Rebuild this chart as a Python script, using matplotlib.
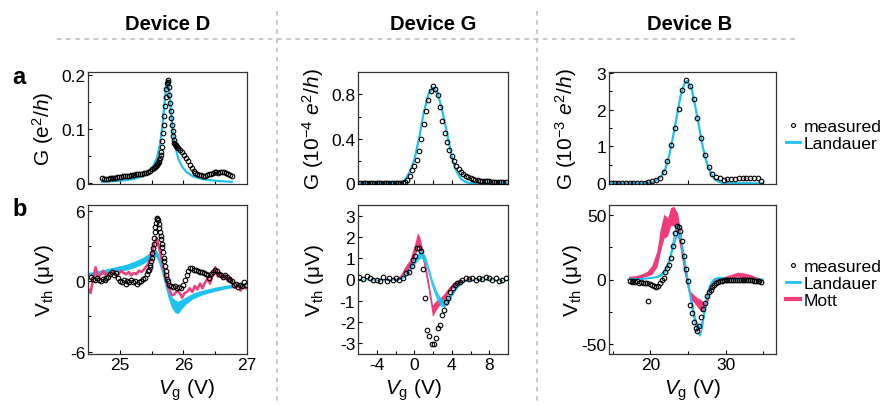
import numpy as np
import matplotlib
matplotlib.use("Agg")
import matplotlib.pyplot as plt
from matplotlib.lines import Line2D

plt.rcParams['font.family'] = ['Liberation Sans', 'DejaVu Sans']
plt.rcParams['mathtext.fontset'] = 'custom'
plt.rcParams['mathtext.rm'] = 'Liberation Sans'
plt.rcParams['mathtext.it'] = 'Liberation Sans:italic'
plt.rcParams['mathtext.bf'] = 'Liberation Sans:bold'
plt.rcParams['axes.unicode_minus'] = False

CYAN = '#1DC2EF'
PINK = '#EF3C7B'

# ---------------- Device D ----------------
# conductance, measured (gate sweep, finer steps around the peak)
d_g_v = np.concatenate([np.linspace(24.72, 25.53, 28),
                        np.linspace(25.56, 25.92, 37),
                        np.linspace(25.95, 26.76, 28)])
d_g_meas = [0.010, 0.008, 0.007, 0.008, 0.009, 0.009, 0.010, 0.010, 0.011, 0.011,
            0.011, 0.012, 0.012, 0.013, 0.013, 0.014, 0.015, 0.015, 0.016, 0.016,
            0.017, 0.017, 0.018, 0.019, 0.020, 0.022, 0.025, 0.028,
            0.030, 0.031, 0.033, 0.035, 0.037, 0.039, 0.042, 0.046, 0.051, 0.058,
            0.067, 0.078, 0.092, 0.108, 0.125, 0.143, 0.160, 0.175, 0.186, 0.192,
            0.188, 0.178, 0.164, 0.149, 0.134, 0.120, 0.107, 0.096, 0.087, 0.080,
            0.075, 0.072, 0.070, 0.068, 0.067, 0.065, 0.064,
            0.061, 0.057, 0.052, 0.046, 0.040, 0.033, 0.027, 0.022, 0.019, 0.017,
            0.015, 0.014, 0.013, 0.013, 0.014, 0.016, 0.017, 0.019, 0.020, 0.020,
            0.019, 0.020, 0.021, 0.020, 0.018, 0.016, 0.014, 0.012]
d_g_fit_v = [24.72, 25.0, 25.2, 25.35, 25.45, 25.52, 25.58, 25.63, 25.67, 25.70, 25.73,
             25.75, 25.77, 25.80, 25.83, 25.87, 25.92, 25.98, 26.05, 26.15, 26.30, 26.50, 26.76]
d_g_fit = [0.002, 0.004, 0.007, 0.012, 0.020, 0.030, 0.045, 0.070, 0.105, 0.145, 0.180,
           0.190, 0.180, 0.140, 0.100, 0.068, 0.045, 0.030, 0.020, 0.012, 0.007, 0.004, 0.002]

# thermovoltage
d_v_v = np.concatenate([np.linspace(24.55, 25.42, 30),
                        np.linspace(25.45, 25.75, 31),
                        np.linspace(25.78, 26.98, 41)])
d_v_meas = [0.4, 0.2, 0.1, 0.3, 0.1, 0.0, 0.2, 0.1, 0.3, 0.4, 0.6, 0.8, 0.5, 0.7, 0.3,
            0.0, -0.1, 0.1, -0.2, 0.0, -0.1, 0.1, -0.1, 0.0, -0.2, -0.1, 0.0, 0.2, 0.3, 0.6,
            0.9, 1.0, 1.2, 1.4, 1.7, 2.0, 2.4, 2.8, 3.2, 3.7, 4.2, 4.6, 5.0, 5.3, 5.4,
            5.2, 4.9, 4.5, 4.2, 3.9, 3.6, 3.2, 2.9, 2.5, 2.0, 1.7, 1.3, 0.9, 0.5, 0.2, 0.0,
            -0.3, -0.4, -0.5, -0.4, -0.6, -0.5, -0.6, -0.3, 0.1, 0.5, 0.9, 1.1, 1.1, 1.0,
            1.0, 0.9, 0.8, 0.8, 0.7, 0.6, 0.5, 0.3, 0.6, 0.8, 1.0, 0.9, 0.6, 0.5, 0.4, 0.5,
            0.4, 0.2, 0.1, 0.0, -0.3, -0.2, -0.5, -0.3, -0.4, -0.1, -0.3]
d_land_v = [24.50, 24.70, 24.90, 25.10, 25.25, 25.35, 25.45, 25.52, 25.57, 25.61, 25.66,
            25.71, 25.76, 25.81, 25.87, 25.92, 25.98, 26.05, 26.15, 26.30, 26.50, 26.70, 26.98]
d_land_lo = [0.45, 0.55, 0.75, 0.95, 1.2, 1.45, 1.75, 2.0, 2.1, 1.6, 0.7, -0.4, -1.4, -2.2,
             -2.7, -2.75, -2.3, -1.9, -1.5, -1.15, -0.85, -0.6, -0.45]
d_land_hi = [0.75, 0.95, 1.2, 1.45, 1.75, 2.0, 2.35, 2.6, 2.7, 2.3, 1.3, 0.2, -0.8, -1.3,
             -1.6, -1.7, -1.5, -1.3, -1.0, -0.75, -0.5, -0.3, -0.2]
d_mott_v = np.linspace(24.50, 26.98, 63)
d_mott = [-0.6, -1.0, 0.2, 1.2, 0.3, 0.6, 0.9, 0.5, 0.7, 0.6, 0.8, 0.5, 0.6, 0.9, 0.7,
          0.6, 0.8, 0.5, 0.7, 0.6, 0.9, 0.8, 1.0, 1.3, 1.6, 2.3, 3.2, 3.7, 2.8, 1.8, 0.8,
          0.0, -0.7, -1.2, -1.1, -0.8, -1.0, -1.4, -1.0, -0.9, -0.6, -0.9, -0.4, -0.7, -0.2,
          -0.6, -0.1, 0.2, -0.2, 0.6, 1.2, 0.4, 0.7, 0.2, 0.5, 0.0, 0.3, -0.3, -0.6, -0.2,
          -0.8, -0.4, -0.6]

# ---------------- Device G ----------------
g_g_v = np.linspace(-5.75, 9.75, 63)
g_g_meas = [0.004, 0.003, 0.004, 0.003, 0.003, 0.004, 0.003, 0.004, 0.003, 0.003,
            0.004, 0.003, 0.003, 0.004, 0.003, 0.004, 0.004, 0.005, 0.007,
            0.012, 0.03, 0.07, 0.12, 0.16, 0.21, 0.29, 0.40, 0.53, 0.65, 0.75, 0.83,
            0.87, 0.85, 0.79, 0.69, 0.56, 0.45, 0.37, 0.30, 0.245, 0.20, 0.16, 0.13,
            0.105, 0.085, 0.068, 0.055, 0.045, 0.038, 0.032, 0.028, 0.025, 0.022,
            0.020, 0.019, 0.018, 0.017, 0.016, 0.016, 0.015, 0.015, 0.016, 0.017]
g_g_fit_v = [-6.0, -2.0, -1.5, -1.0, -0.5, 0.0, 0.5, 1.0, 1.5, 2.0, 2.5, 3.0, 3.5, 4.0,
             4.5, 5.0, 5.5, 6.0, 10.0]
g_g_fit = [0.0, 0.0, 0.008, 0.03, 0.10, 0.21, 0.40, 0.63, 0.80, 0.86, 0.81, 0.65, 0.45,
           0.24, 0.11, 0.04, 0.012, 0.003, 0.0]

g_v_v = [-5.85, -5.43, -5.07, -4.72, -4.36, -4.0, -3.65, -3.30, -2.94, -2.66, -2.30, -1.95,
         -1.60, -1.24, -0.89, -0.53, -0.28, -0.11, 0.11, 0.28, 0.53, 0.71, 0.96, 1.17, 1.35,
         1.60, 1.84, 2.06, 2.30, 2.55, 2.77, 2.94, 3.19, 3.37, 3.62, 3.83, 4.08, 4.33, 4.61,
         4.86, 5.14, 5.50, 5.85, 6.21, 6.56, 6.91, 7.27, 7.62, 7.98, 8.33, 8.69, 9.04, 9.40, 9.75]
g_v_meas = [0.1, 0.02, 0.15, 0.05, -0.04, 0.0, -0.05, 0.1, -0.05, 0.05, -0.02, 0.05, 0.0,
            0.05, 0.29, 0.37, 0.65, 0.92, 1.12, 1.5, 1.5, 1.34, 0.49, -0.85, -2.37, -2.64,
            -3.03, -3.03, -2.73, -2.29, -2.14, -1.67, -1.43, -1.04, -0.89, -0.57, -0.42,
            -0.26, -0.18, -0.10, -0.02, 0.05, 0.02, 0.05, 0.0, 0.05, 0.02, 0.1, 0.05, 0.0,
            0.08, -0.05, -0.02, 0.08]
g_land_v = [-6.0, -2.0, -1.5, -1.0, -0.5, 0.0, 0.5, 0.8, 1.2, 1.6, 2.0, 2.4, 2.8, 3.2, 3.6,
            4.0, 4.5, 5.0, 5.5, 6.0, 10.0]
g_land_lo = [-0.02, -0.02, 0.0, 0.1, 0.35, 0.7, 0.95, 1.0, 0.7, 0.1, -0.5, -0.95, -1.25,
             -1.3, -1.15, -0.8, -0.45, -0.2, -0.08, -0.02, -0.02]
g_land_hi = [0.02, 0.03, 0.08, 0.25, 0.6, 1.0, 1.3, 1.38, 1.1, 0.5, -0.1, -0.55, -0.85,
             -0.95, -0.8, -0.5, -0.25, -0.08, 0.0, 0.02, 0.02]
g_mott_v = [-2.5, -2.0, -1.5, -1.0, -0.5, 0.0, 0.35, 0.6, 1.0, 1.5, 1.95, 2.3, 2.7, 3.2,
            3.7, 4.2, 4.8, 5.5, 6.0]
g_mott_lo = [-0.02, 0.0, 0.05, 0.3, 0.5, 1.0, 1.5, 1.5, 0.7, -0.5, -1.75, -1.45, -1.2,
             -0.95, -0.6, -0.35, -0.15, -0.03, -0.01]
g_mott_hi = [0.02, 0.05, 0.2, 0.6, 0.9, 1.6, 2.2, 2.0, 1.2, 0.0, -1.2, -1.0, -0.9, -0.65,
             -0.35, -0.15, -0.03, 0.02, 0.01]

# ---------------- Device B ----------------
b_g_v = np.linspace(14.75, 34.75, 41)
b_g_meas = [0.01, 0.01, 0.01, 0.01, 0.01, 0.01, 0.01, 0.01, 0.015, 0.02, 0.03,
            0.05, 0.08, 0.14, 0.30, 0.60, 1.05, 1.50, 2.02, 2.52, 2.80, 2.65, 2.28, 1.76,
            1.22, 0.78, 0.45, 0.26, 0.16, 0.13, 0.10, 0.11, 0.12, 0.12, 0.13, 0.14, 0.14,
            0.15, 0.15, 0.13, 0.05]
b_g_fit_v = [14.7, 19.5, 20.5, 21.5, 22.0, 22.5, 23.0, 23.5, 24.0, 24.5, 24.9, 25.5, 26.0,
             26.5, 27.0, 27.5, 28.0, 28.5, 29.0, 29.5, 30.0, 34.8]
b_g_fit = [0.0, 0.0, 0.04, 0.2, 0.4, 0.75, 1.25, 1.8, 2.35, 2.7, 2.78, 2.55, 2.05, 1.5,
           0.95, 0.55, 0.28, 0.12, 0.05, 0.015, 0.0, 0.0]

b_v_v = np.linspace(17.25, 34.75, 71)
b_v_meas = [-1, -2, -1, -2, -1.5, -2.5, -2, -3, -2.5, -3, -16.5, -3.5, -4.5, -5, -6, -5,
            -3, 0, 1, 6, 9, 11, 17, 26, 36, 42, 41, 38, 30, 18, 8, -1, -20, -26, -33, -38,
            -40, -36, -29, -23, -18, -13, -10, -8, -6, -4, -3, -2, -1.5, -1, -0.5, 0,
            0, -0.5, 0, 0, -0.5, 0, 0, -0.5, 0, 0, -0.5,
            -0.5, -0.5, -0.5, -1, -1, -1, -1.5, -2]
b_land1_v = [17.0, 19.0, 20.0, 21.0, 21.5, 22.0, 22.5, 23.0, 23.3, 23.6, 23.9, 24.2, 24.6,
             25.0, 25.4, 25.8, 26.2, 26.6, 26.9, 27.2, 27.5, 27.8, 28.2, 28.6, 29.2, 30.0,
             31.0, 35.0]
b_land1 = [0, 0.5, 1, 2, 3.5, 7, 14, 28, 38, 42, 38, 28, 12, -3, -17, -30, -40, -44, -38,
           -26, -14, -6, -1.5, 0.5, 1, 0.5, 0, 0]
b_land2_v = [17.0, 19.0, 20.0, 21.0, 21.5, 22.0, 22.5, 23.0, 23.4, 23.7, 24.0, 24.3, 24.7,
             25.1, 25.5, 25.9, 26.3, 26.6, 26.9, 27.3, 27.6, 28.0, 28.4, 29.0, 29.8, 31.0, 35.0]
b_land2 = [0, 0.5, 1, 2, 3, 6, 12, 24, 33, 36, 33, 24, 10, -4, -17, -29, -36, -37, -33,
           -22, -12, -4, 0, 1.5, 1, 0, 0]
b_land3_v = [17.0, 20.0, 21.0, 21.5, 22.0, 22.5, 23.0, 23.5, 23.8, 24.1, 24.5, 24.9, 25.3,
             25.7, 26.1, 26.5, 26.8, 27.1, 27.5, 27.9, 28.3, 28.8, 29.5, 30.5, 35.0]
b_land3 = [0, 1, 2.5, 4, 8, 15, 25, 33, 34, 30, 18, 3, -12, -24, -33, -38, -36, -29, -17,
           -7, -2, 1, 1.5, 0.5, 0]
b_mott_v = [17.1, 18.0, 18.7, 19.6, 20.2, 20.9, 21.3, 21.8, 22.3, 22.7, 23.1, 23.6, 24.0,
            24.4, 24.9, 25.3, 25.8, 26.2, 26.7, 27.1, 27.6, 28.0, 28.4, 29.3, 30.7, 31.6,
            32.4, 33.3, 34.4, 35.0]
b_mott_lo = [0, 0.5, 1.3, 2.6, 4, 10, 21, 32, 34, 42, 42, 34, 23, 8, -6.5, -15.5, -18, -21,
             -25, -25, -18, -9, -4, -1.3, 1.3, 2, 1.3, 0.5, -0.5, -0.5]
b_mott_hi = [2.5, 3, 4, 6.5, 11, 23, 39, 51, 48, 56, 57, 52, 39, 16, 0, -9, -12, -14,
             -15.5, -18, -12, -4, 0, 1.3, 3.9, 5.7, 5.2, 3.9, 1.3, 0.5]

# ---------------- figure ----------------
fig = plt.figure(figsize=(8.89, 4.06), dpi=100)

W, H = 889.0, 406.0
cols = {'D': (88, 159), 'G': (358, 150), 'B': (609, 167)}
top_row = (73, 185)
bot_row = (206, 355)
LAB = 15


def make_ax(col, row):
    x0, w = cols[col]
    t, b = row
    return fig.add_axes([x0 / W, 1 - b / H, w / W, (b - t) / H])


def style(ax):
    ax.tick_params(direction='in', length=3, width=0.8, labelsize=12.5, pad=2)
    ax.tick_params(which='minor', direction='in', length=2.5, width=0.8)
    for s in ax.spines.values():
        s.set_linewidth(0.9)
        s.set_color('#333333')


mk = dict(ls='none', marker='o', ms=3.3, mfc='none', mec='black', mew=0.8, zorder=3)
XL = r'$V_\mathrm{g}$ (V)'
YV = r'V$_\mathrm{th}$ ($\mathrm{\mu}$V)'

# Device D
ax = make_ax('D', top_row)
ax.plot(d_g_fit_v, d_g_fit, color=CYAN, lw=1.6, zorder=2)
ax.plot(d_g_v, d_g_meas, **mk)
ax.set_xlim(24.5, 27)
ax.set_ylim(-0.002, 0.206)
ax.set_xticks([25, 25.5, 26, 26.5])
ax.set_xticklabels([])
ax.set_yticks([0, 0.1, 0.2], ['0', '0.1', '0.2'])
ax.set_yticks([0.05, 0.15], minor=True)
ax.set_ylabel(r'G (e$^2$/$h$)', fontsize=LAB)
ax.yaxis.set_label_coords(-0.2, 0.5)
style(ax)

ax = make_ax('D', bot_row)
ax.fill_between(d_land_v, d_land_lo, d_land_hi, color=CYAN, lw=0, zorder=1)
ax.plot(d_mott_v, d_mott, color=PINK, lw=1.8, zorder=1.5)
ax.plot(d_v_v, d_v_meas, **mk)
ax.set_xlim(24.5, 27)
ax.set_ylim(-6.2, 6.5)
ax.set_xticks([25, 26, 27], ['25', '26', '27'])
ax.set_xticks([25.5, 26.5], minor=True)
ax.set_yticks([-6, 0, 6], ['-6', '0', '6'])
ax.set_yticks([-3, 3], minor=True)
ax.set_xlabel(XL, fontsize=LAB)
ax.xaxis.set_label_coords(0.62, -0.15)
ax.set_ylabel(YV, fontsize=LAB)
ax.yaxis.set_label_coords(-0.2, 0.5)
style(ax)

# Device G
ax = make_ax('G', top_row)
ax.plot(g_g_fit_v, g_g_fit, color=CYAN, lw=1.6, zorder=2)
ax.plot(g_g_v, g_g_meas, **mk)
ax.set_xlim(-6, 10)
ax.set_ylim(-0.005, 1.0)
ax.set_xticks([-4, -2, 0, 2, 4, 6, 8])
ax.set_xticklabels([])
ax.set_yticks([0, 0.4, 0.8], ['0', '0.4', '0.8'])
ax.set_yticks([0.2, 0.6], minor=True)
ax.set_ylabel(r'G (10$^{-4}$ $e^2$/$h$)', fontsize=LAB)
ax.yaxis.set_label_coords(-0.21, 0.5)
style(ax)

ax = make_ax('G', bot_row)
ax.fill_between(g_mott_v, g_mott_lo, g_mott_hi, color=PINK, lw=0, zorder=1)
ax.fill_between(g_land_v, g_land_lo, g_land_hi, color=CYAN, lw=0, alpha=0.9, zorder=1.5)
ax.plot(g_v_v, g_v_meas, **mk)
ax.set_xlim(-6, 10)
ax.set_ylim(-3.5, 3.5)
ax.set_xticks([-4, 0, 4, 8], ['-4', '0', '4', '8'])
ax.set_xticks([-2, 2, 6], minor=True)
ax.set_yticks([-3, -2, -1, 0, 1, 2, 3], ['-3', '-2', '-1', '0', '1', '2', '3'])
ax.set_xlabel(XL, fontsize=LAB)
ax.xaxis.set_label_coords(0.37, -0.15)
ax.set_ylabel(YV, fontsize=LAB)
ax.yaxis.set_label_coords(-0.21, 0.5)
style(ax)

# Device B
ax = make_ax('B', top_row)
ax.plot(b_g_fit_v, b_g_fit, color=CYAN, lw=1.6, zorder=2)
ax.plot(b_g_v, b_g_meas, **mk)
ax.set_xlim(14.5, 36.7)
ax.set_ylim(-0.02, 3.02)
ax.set_xticks([15, 20, 25, 30, 35])
ax.set_xticklabels([])
ax.set_yticks([0, 1, 2, 3], ['0', '1', '2', '3'])
ax.set_yticks([0.5, 1.5, 2.5], minor=True)
ax.set_ylabel(r'G (10$^{-3}$ $e^2$/$h$)', fontsize=LAB)
ax.yaxis.set_label_coords(-0.18, 0.5)
style(ax)

ax = make_ax('B', bot_row)
ax.fill_between(b_mott_v, b_mott_lo, b_mott_hi, color=PINK, lw=0, zorder=1)
for vv, yy in [(b_land1_v, b_land1), (b_land2_v, b_land2), (b_land3_v, b_land3)]:
    ax.plot(vv, yy, color=CYAN, lw=1.0, zorder=1.5)
ax.plot(b_v_v, b_v_meas, **mk)
ax.set_xlim(14.5, 36.7)
ax.set_ylim(-58, 58)
ax.set_xticks([20, 30], ['20', '30'])
ax.set_xticks([15, 25, 35], minor=True)
ax.set_yticks([-50, 0, 50], ['-50', '0', '50'])
ax.set_yticks([-25, 25], minor=True)
ax.set_xlabel(XL, fontsize=LAB)
ax.xaxis.set_label_coords(0.5, -0.15)
ax.set_ylabel(YV, fontsize=LAB)
ax.yaxis.set_label_coords(-0.15, 0.5)
style(ax)

# legends
h_meas = Line2D([], [], ls='none', marker='o', ms=2.8, mfc='none', mec='black', mew=0.8)
h_land = Line2D([], [], color=CYAN, lw=2)
h_mott = Line2D([], [], color=PINK, lw=3)
leg_kw = dict(frameon=False, fontsize=12.6, handlelength=0.8, handletextpad=0.2,
              labelspacing=0.1, borderpad=0, borderaxespad=0, loc='center left')
fig.legend([h_meas, h_land], ['measured', 'Landauer'],
           bbox_to_anchor=(786 / W, 1 - 136 / H), **leg_kw)
fig.legend([h_meas, h_land, h_mott], ['measured', 'Landauer', 'Mott'],
           bbox_to_anchor=(786 / W, 1 - 284 / H), **leg_kw)

# headers and panel letters
for name, xc in [('Device D', 168), ('Device G', 433), ('Device B', 690)]:
    fig.text(xc / W, 1 - 25 / H, name, ha='center', va='center',
             fontsize=14.5, fontweight='bold')
fig.text(12 / W, 1 - 78 / H, 'a', ha='left', va='center', fontsize=17, fontweight='bold')
fig.text(12 / W, 1 - 210 / H, 'b', ha='left', va='center', fontsize=17, fontweight='bold')

# dashed separators
sep = dict(color='#BBBBBB', lw=1.1, ls=(0, (3, 3)), transform=fig.transFigure)
fig.add_artist(Line2D([57 / W, 797 / W], [1 - 40 / H, 1 - 40 / H], **sep))
for xs in (277, 537):
    fig.add_artist(Line2D([xs / W, xs / W], [1 - 12 / H, 0], **sep))

fig.savefig('out.png', dpi=100)
